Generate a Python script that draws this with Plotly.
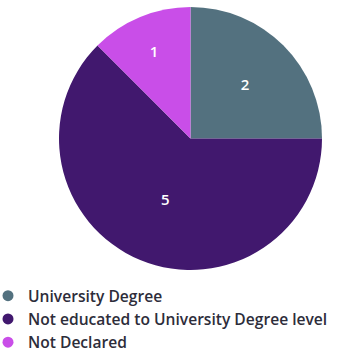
import plotly.graph_objects as go

labels = ["University Degree", "Not educated to University Degree level", "Not Declared"]
values = [2, 5, 1]
colors = ["#53717f", "#41186e", "#c94ee8"]

W, H = 341, 356
fig = go.Figure()
fig.add_trace(go.Pie(
    labels=labels, values=values, sort=False, direction="clockwise", rotation=0,
    marker=dict(colors=colors, line=dict(width=0)),
    textinfo="value", textposition="inside", insidetextorientation="horizontal",
    textfont=dict(color="white", size=15, family="Open Sans", weight=600),
    showlegend=False, hoverinfo="label+value",
    domain=dict(x=[59 / W, 322 / W], y=[1 - 270 / H, 1 - 7 / H]),
))
for lab, col in zip(labels, colors):
    fig.add_trace(go.Scatter(
        x=[None], y=[None], mode="markers", name=lab, legendgroup=lab,
        marker=dict(color=col, size=11, symbol="circle"),
        showlegend=True,
    ))

fig.update_layout(
    width=W, height=H,
    margin=dict(l=0, r=0, t=0, b=0, autoexpand=False),
    paper_bgcolor="white", plot_bgcolor="white",
    xaxis=dict(visible=False), yaxis=dict(visible=False),
    legend=dict(
        x=-12 / W, y=1 - 279 / H, xanchor="left", yanchor="top",
        font=dict(family="Open Sans", size=15.6, color="#2d2d3a", weight=600),
        tracegroupgap=0, itemwidth=30,
        bgcolor="rgba(0,0,0,0)",
    ),
)
fig.write_html("out.html", config={"displayModeBar": False},
               post_script="document.body.style.margin='0';")
